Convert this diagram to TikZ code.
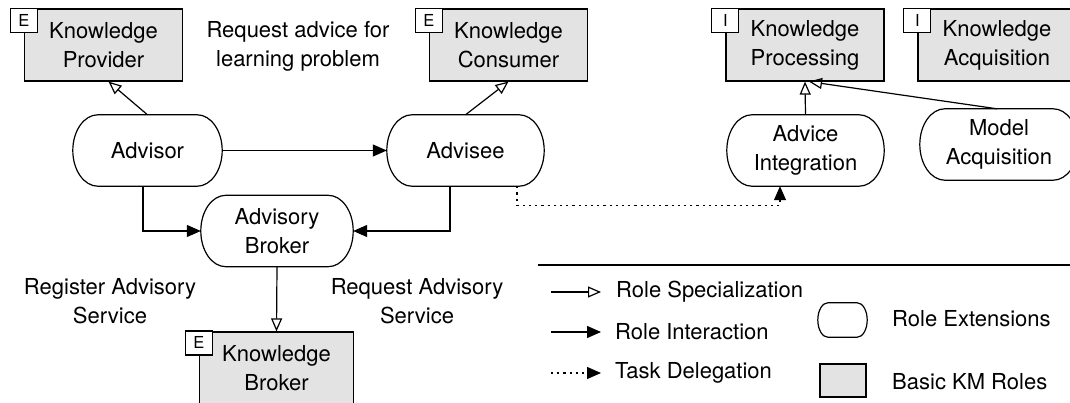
\documentclass[tikz,border=0pt]{standalone}
\usepackage{fontspec}
\setmainfont{TeX Gyre Heros}
\usetikzlibrary{arrows.meta,calc}
% outline of a role-extension shape with elliptical corners: name, x radius, y radius
\newcommand\rolext[3]{%
  \draw[line width=1.2pt]
    ([xshift=#2]#1.north west) -- ([xshift=-#2]#1.north east)
    .. controls ([xshift=-0.448*#2]#1.north east) and ([yshift=0.552*#3]#1.east) .. (#1.east)
    .. controls ([yshift=-0.552*#3]#1.east) and ([xshift=-0.448*#2]#1.south east) .. ([xshift=-#2]#1.south east)
    -- ([xshift=#2]#1.south west)
    .. controls ([xshift=0.448*#2]#1.south west) and ([yshift=-0.552*#3]#1.west) .. (#1.west)
    .. controls ([yshift=0.552*#3]#1.west) and ([xshift=0.448*#2]#1.north west) .. ([xshift=#2]#1.north west)
    -- cycle;}
\begin{document}
\begin{tikzpicture}[x=1pt,y=-1pt,
  every node/.style={font=\fontsize{22}{29}\selectfont, align=center, inner sep=0pt},
  basic/.style={draw, line width=1.2pt, fill=black!11, minimum width=158pt, minimum height=72pt},
  ext/.style={minimum height=71pt},
  tag/.style={draw, line width=1.1pt, fill=white, minimum width=27pt, minimum height=24pt, anchor=north, font=\fontsize{16.5}{18}\selectfont, text depth=0pt},
  spec/.style={line width=1.2pt, -{Triangle[open,length=13pt,width=11pt,line width=1.2pt]}},
  inter/.style={line width=1.2pt, -{Triangle[length=14pt,width=12pt]}},
  deleg/.style={line width=1.2pt, dash pattern=on 2.2pt off 4pt, -{Triangle[length=14pt,width=12pt]}},
  lbl/.style={anchor=west, font=\fontsize{22}{29}\selectfont}
]
\useasboundingbox (0,0) rectangle (1070,403);
\clip (0,0) rectangle (1070,403);

% basic KM roles
\node[basic] (prov) at (103.5,45) {Knowledge\\Provider};
\node[basic] (cons) at (508.5,45) {Knowledge\\Consumer};
\node[basic] (kproc) at (805,45) {Knowledge\\Processing};
\node[basic] (kacq) at (997,45) {Knowledge\\Acquisition};
\node[basic, minimum width=154pt] (kbrok) at (276.5,368) {Knowledge\\Broker};

\node[tag] (tprov) at (prov.north west) {E};
\node[tag] (tcons) at (cons.north west) {E};
\node[tag] (tkproc) at (kproc.north west) {I};
\node[tag] (tkacq) at (kacq.north west) {I};
\node[tag] (tkbrok) at ([yshift=1pt]kbrok.north west) {E};

% role extensions
\node[ext, minimum width=149pt] (advisor) at (147.5,150.5) {Advisor};
\node[ext, minimum width=157pt] (advisee) at (465.5,150.5) {Advisee};
\node[ext, minimum width=152pt] (broker) at (277,231) {Advisory\\Broker};
\node[ext, minimum width=157pt] (advint) at (805.5,150.5) {Advice\\Integration};
\node[ext, minimum width=158pt] (modacq) at (999,144.5) {Model\\Acquisition};
\rolext{advisor}{25pt}{35.5pt}
\rolext{advisee}{25pt}{35.5pt}
\rolext{broker}{25pt}{36pt}
\rolext{advint}{25pt}{35.5pt}
\rolext{modacq}{25pt}{35.5pt}

% labels
\node (lreq) at (298,46) {Request advice for\\learning problem};
\node (lreg) at (110,301) {Register Advisory\\Service};
\node (lrqs) at (417,301) {Request Advisory\\Service};

% connectors
\draw[spec] (advisor.north) -- ([xshift=5pt]prov.south);
\draw[spec] (advisee.north) -- (cons.south);
\draw[inter] (advisor.east) -- (advisee.west);
\draw[inter] ([xshift=-4.5pt]advisor.south) |- (broker.west);
\draw[inter] ([xshift=-15.5pt]advisee.south) |- (broker.east);
\draw[spec] (broker.south) -- (kbrok.north);
\draw[spec] (advint.north) -- (kproc.south);
\draw[spec] ([xshift=-2pt]modacq.north) -- ([xshift=4pt]kproc.south);
\draw[deleg] ([xshift=51.5pt]advisee.south) -- ++(0,19) -| ([xshift=-25.5pt]advint.south);

% legend
\coordinate (lg1) at (538,265);
\coordinate (lg2) at (1070,265);
\draw[line width=1.2pt] (lg1) -- (lg2);
\coordinate (a1) at (551,292); \coordinate (b1) at (601,292);
\coordinate (a2) at (551,332); \coordinate (b2) at (601,332);
\coordinate (a3) at (551,373); \coordinate (b3) at (601,373);
\draw[spec] (a1) -- (b1);
\draw[inter] (a2) -- (b2);
\draw[deleg] (a3) -- (b3);
\node[lbl] (t1) at (616,292) {Role Specialization};
\node[lbl] (t2) at (615,332) {Role Interaction};
\node[lbl] (t3) at (615,373) {Task Delegation};
\node[minimum width=49pt, minimum height=34pt] (lext) at (842.5,320) {};
\rolext{lext}{10pt}{17pt}
\node[draw, line width=1.2pt, fill=black!11, minimum width=46pt, minimum height=33pt] (lbas) at (843,380.5) {};
\node[lbl] (t4) at (892,319) {Role Extensions};
\node[lbl] (t5) at (892,382) {Basic KM Roles};
\end{tikzpicture}
\end{document}
